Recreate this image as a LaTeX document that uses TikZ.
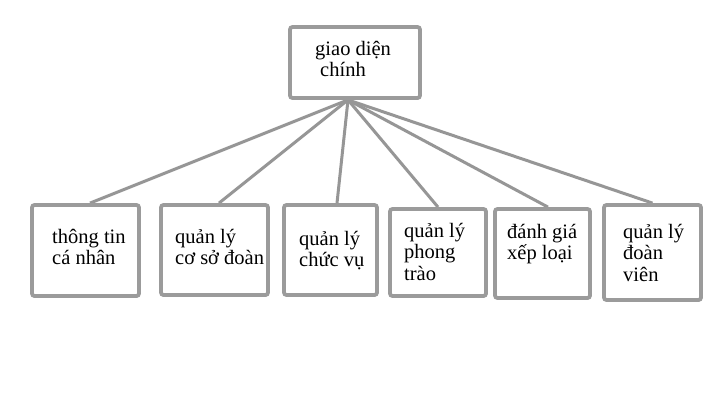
\documentclass[tikz,border=0pt]{standalone}
\usepackage{fontspec}
\setmainfont{Liberation Serif}
\usetikzlibrary{backgrounds}
\definecolor{boxgray}{RGB}{155,155,155}
\definecolor{linegray}{RGB}{150,150,150}
\newcommand{\lines}[1]{\begin{tabular}[t]{@{}l@{}}#1\end{tabular}}
\begin{document}
\begin{tikzpicture}[x=1pt,y=-1pt,
  box/.style={draw=boxgray,line width=3.8pt,rounded corners=2.5pt,fill=white,inner sep=0pt},
  lbl/.style={anchor=base west,inner sep=0pt,font=\fontsize{20.5}{21.7}\selectfont},
  conn/.style={draw=linegray,line width=3pt}]
\useasboundingbox (0,0) rectangle (716,413);
\node[box,minimum width=130pt,minimum height=71pt] (top) at (355,62.5) {};
\node[box,minimum width=107pt,minimum height=91pt] (b1) at (85.5,250.5) {};
\node[box,minimum width=107pt,minimum height=90pt] (b2) at (214.5,250) {};
\node[box,minimum width=93pt,minimum height=90pt] (b3) at (330.5,250) {};
\node[box,minimum width=96pt,minimum height=87pt] (b4) at (438,252.5) {};
\node[box,minimum width=95pt,minimum height=89pt] (b5) at (542.5,253.5) {};
\node[box,minimum width=97pt,minimum height=95pt] (b6) at (652.5,252.5) {};
\coordinate (hub) at ([xshift=-7pt]top.south);
\begin{scope}[on background layer]
\draw[conn] (hub) -- ([xshift=4.5pt]b1.north);
\draw[conn] (hub) -- ([xshift=4.5pt]b2.north);
\draw[conn] (hub) -- ([xshift=6.5pt]b3.north);
\draw[conn] (hub) -- (b4.north);
\draw[conn] (hub) -- ([xshift=5.5pt]b5.north);
\draw[conn] (hub) -- (b6.north);
\end{scope}
\node[lbl] (t0) at (315,55) {\lines{giao diện\\\hspace{5pt}chính}};
\node[lbl] (t1) at (52,243) {\lines{thông tin\\cá nhân}};
\node[lbl] (t2) at (175,243) {\lines{quản lý\\cơ sở đoàn}};
\node[lbl] (t3) at (299,245) {\lines{quản lý\\chức vụ}};
\node[lbl] (t4) at (404,237) {\lines{quản lý\\phong\\trào}};
\node[lbl] (t5) at (507,238) {\lines{đánh giá\\xếp loại}};
\node[lbl] (t6) at (623,238) {\lines{quản lý\\đoàn\\viên}};
\end{tikzpicture}
\end{document}
